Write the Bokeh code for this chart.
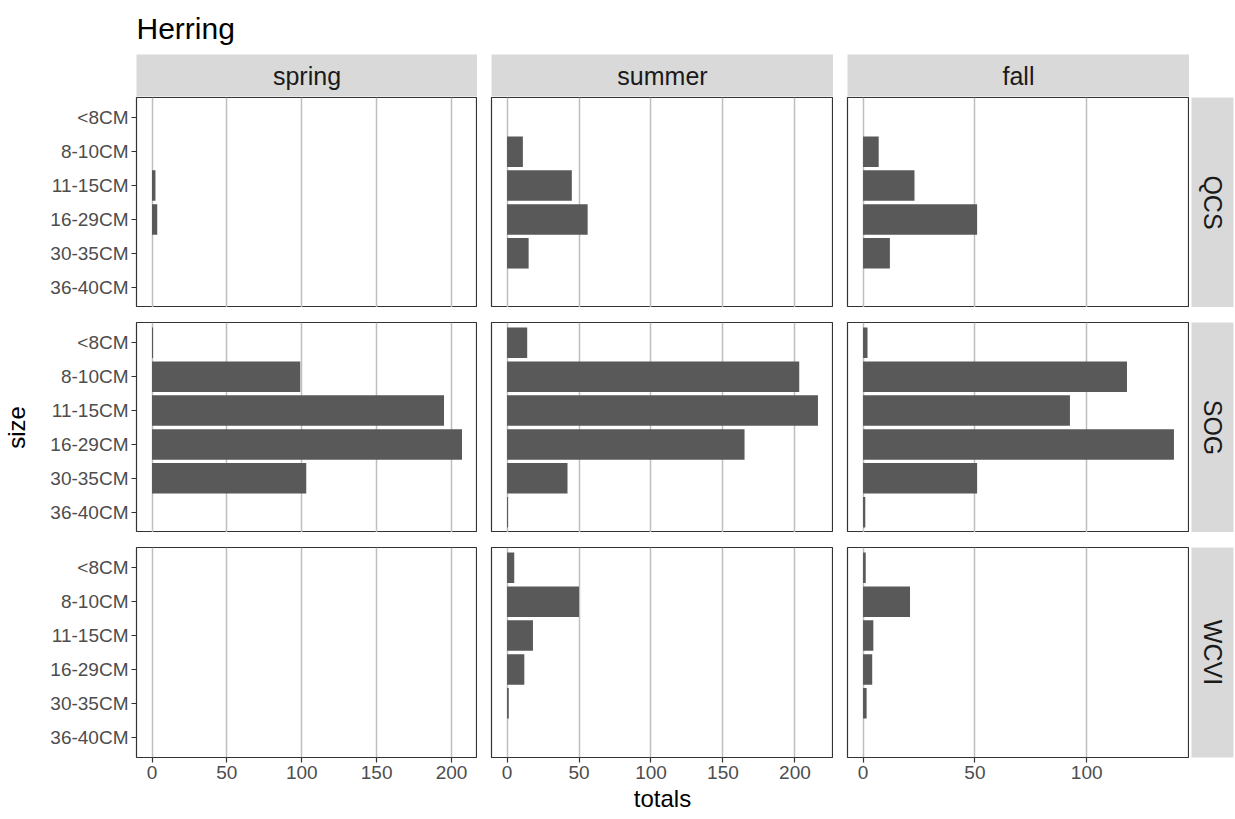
import math
from bokeh.plotting import figure
from bokeh.layouts import gridplot
from bokeh.models import FactorRange, Range1d, FixedTicker
from bokeh.embed import file_html
from bokeh.resources import INLINE
from bokeh.core.properties import value

# ---------------- data ----------------
chart_title = "Herring"
x_title = "totals"
y_title = "size"
sizes = ["<8CM", "8-10CM", "11-15CM", "16-29CM", "30-35CM", "36-40CM"]
seasons = ["spring", "summer", "fall"]
regions = ["QCS", "SOG", "WCVI"]

qcs_spring = [0, 0, 2.3, 3.5, 0, 0]
qcs_summer = [0, 11, 45, 56, 15, 0]
qcs_fall = [0, 7, 23, 51, 12, 0]
sog_spring = [0.7, 99, 195, 207, 103, 0]
sog_summer = [14, 203, 216, 165, 42, 0.7]
sog_fall = [2, 118, 92.5, 139, 51, 1]
wcvi_spring = [0, 0, 0, 0, 0, 0]
wcvi_summer = [5, 50, 18, 12, 1.2, 0]
wcvi_fall = [1.2, 21, 4.6, 4.1, 1.6, 0]

spring_ticks = [0, 50, 100, 150, 200]
summer_ticks = [0, 50, 100, 150, 200]
fall_ticks = [0, 50, 100]

totals = {
    ("QCS", "spring"): qcs_spring, ("QCS", "summer"): qcs_summer, ("QCS", "fall"): qcs_fall,
    ("SOG", "spring"): sog_spring, ("SOG", "summer"): sog_summer, ("SOG", "fall"): sog_fall,
    ("WCVI", "spring"): wcvi_spring, ("WCVI", "summer"): wcvi_summer, ("WCVI", "fall"): wcvi_fall,
}
ticks = {"spring": spring_ticks, "summer": summer_ticks, "fall": fall_ticks}

# ---------------- style ----------------
FONT = "Liberation Sans"
BAR = "#595959"
STRIP = "#D9D9D9"
GRID = "#BEBEBE"
BORDER = "#333333"
TICKTXT = "#4D4D4D"
FW, FH = 342, 210
LEFTS = [135, 14, 14]
RSTRIP_W = 1235 - (sum(LEFTS) + 3 * FW)

season_max = {s: max(max(totals[(r, s)]) for r in regions) for s in seasons}


def style_axis(ax):
    ax.axis_line_color = None
    ax.major_tick_line_color = BORDER
    ax.major_tick_line_width = 1.2
    ax.major_tick_out = 5
    ax.major_tick_in = 0
    ax.minor_tick_line_color = None
    ax.major_label_text_font = FONT
    ax.major_label_text_font_size = "19px"
    ax.major_label_text_color = TICKTXT
    ax.major_label_standoff = 3
    ax.axis_label_text_font = FONT
    ax.axis_label_text_font_size = "24px"
    ax.axis_label_text_font_style = "normal"
    ax.axis_label_text_color = "black"


def panel(ri, ci):
    region, season = regions[ri], seasons[ci]
    M = season_max[season]
    top = 0 if ri == 0 else 15
    bottom = 62 if ri == 2 else 0
    left = LEFTS[ci]
    p = figure(width=left + FW, height=top + FH + bottom,
               output_backend="svg", toolbar_location=None,
               x_range=Range1d(-0.05 * M, 1.05 * M),
               y_range=FactorRange(factors=list(reversed(sizes)), range_padding=1 / 30,
                                   range_padding_units="percent"),
               x_axis_location="below" if ri == 2 else None,
               y_axis_location="left" if ci == 0 else None,
               min_border_left=left, min_border_right=0,
               min_border_top=top, min_border_bottom=bottom)
    vals = totals[(region, season)]
    ys = [s for s, v in zip(sizes, vals) if v > 0]
    xs = [v for v in vals if v > 0]
    if xs:
        p.hbar(y=ys, left=0, right=xs, height=0.9, fill_color=BAR, line_color=None)
    p.xgrid.ticker = FixedTicker(ticks=ticks[season], minor_ticks=[])
    p.xgrid.grid_line_color = GRID
    p.xgrid.grid_line_width = 1.5
    p.ygrid.grid_line_color = None
    p.outline_line_color = BORDER
    p.outline_line_width = 1.2
    p.background_fill_color = "white"
    p.border_fill_color = "white"
    if ri == 2:
        p.xaxis.ticker = FixedTicker(ticks=ticks[season], minor_ticks=[])
        style_axis(p.xaxis[0])
        p.xaxis.axis_label_standoff = 3
        if ci == 1:
            p.xaxis.axis_label = x_title
    if ci == 0:
        style_axis(p.yaxis[0])
        p.yaxis.axis_label_standoff = 17
        if ri == 1:
            p.yaxis.axis_label = y_title
    return p


def top_strip(ci):
    left = LEFTS[ci]
    s = figure(width=left + FW, height=97, output_backend="svg", toolbar_location=None,
               x_range=Range1d(0, 1), y_range=Range1d(0, 1),
               x_axis_location=None, y_axis_location=None,
               min_border_left=left, min_border_right=0, min_border_top=53, min_border_bottom=1)
    s.grid.visible = False
    s.background_fill_color = STRIP
    s.border_fill_color = "white"
    s.outline_line_color = None
    s.text(x=[0.5], y=[0.5], text=[seasons[ci]], text_align="center", text_baseline="middle",
           text_font=value(FONT), text_font_size="25px", text_color="#1A1A1A")
    if ci == 0:
        s.title.text = chart_title
        s.title.text_font = FONT
        s.title.text_font_size = "30px"
        s.title.text_font_style = "normal"
        s.title.text_color = "black"
        s.title.align = "left"
        s.title.standoff = 19
    return s


def right_strip(ri):
    top = 0 if ri == 0 else 15
    bottom = 62 if ri == 2 else 0
    s = figure(width=RSTRIP_W, height=top + FH + bottom, output_backend="svg", toolbar_location=None,
               x_range=Range1d(0, 1), y_range=Range1d(0, 1),
               x_axis_location=None, y_axis_location=None,
               min_border_left=2, min_border_right=2, min_border_top=top, min_border_bottom=bottom)
    s.grid.visible = False
    s.background_fill_color = STRIP
    s.border_fill_color = "white"
    s.outline_line_color = None
    s.text(x=[0.5], y=[0.5], text=[regions[ri]], text_align="center", text_baseline="middle",
           angle=-math.pi / 2,
           text_font=value(FONT), text_font_size="25px", text_color="#1A1A1A")
    return s


rows = [[top_strip(0), top_strip(1), top_strip(2), None]]
for ri in range(3):
    rows.append([panel(ri, 0), panel(ri, 1), panel(ri, 2), right_strip(ri)])

grid = gridplot(rows, toolbar_location=None)

open("out.html", "w").write(file_html(grid, INLINE))
